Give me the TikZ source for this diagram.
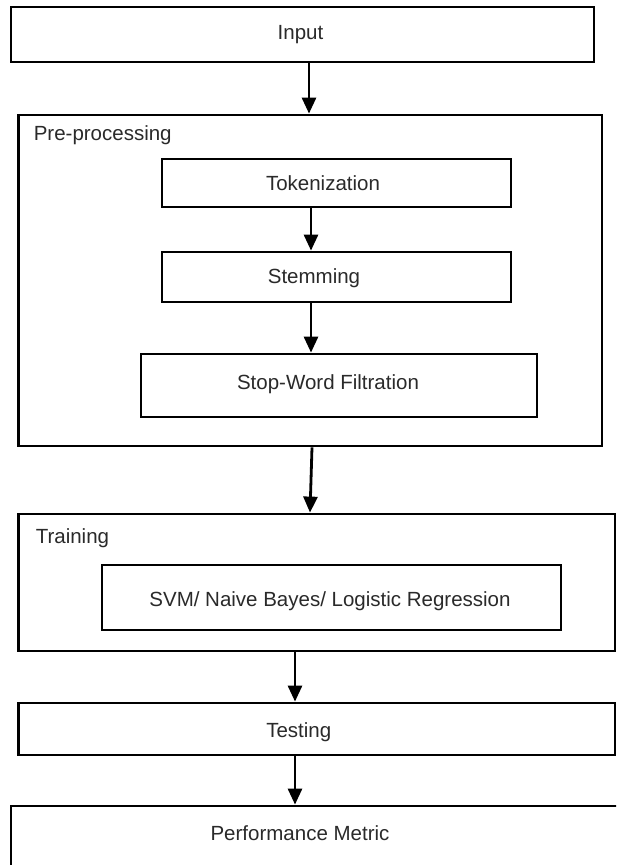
\documentclass[tikz,border=0pt]{standalone}
\usepackage{fontspec}
\setmainfont{Liberation Sans}
\usetikzlibrary{arrows.meta}
\definecolor{ink}{HTML}{2A2A2A}
\tikzset{
  box/.style={draw=black, line width=2.8pt, fill=white, inner sep=0pt},
  txt/.style={text=ink, font=\fontsize{20.5}{24}\selectfont, inner sep=0pt},
  arr/.style={line width=2.8pt, -{Triangle[width=14pt,length=16pt]}},
}
\begin{document}
\begin{tikzpicture}[x=1pt, y=-1pt]
  \useasboundingbox (0,0) rectangle (616,865);
  \fill[white] (0,0) rectangle (616,865);
  \clip (0,0) rectangle (616,865);

  % top input block
  \node[box, minimum width=583pt, minimum height=55pt,
        label={[txt, xshift=-2pt]center:Input}] (input) at (302.5,34.5) {};

  % pre-processing container and its steps
  \node[box, minimum width=583.5pt, minimum height=331pt,
        label={[txt, anchor=west, xshift=16.5pt, yshift=-22pt]north west:Pre-processing}] (pre) at (310.25,280.5) {};
  \node[box, minimum width=349pt, minimum height=48pt,
        label={[txt, xshift=-13.5pt]center:Tokenization}] (tok) at (336.5,183) {};
  \node[box, minimum width=349pt, minimum height=50pt,
        label={[txt, xshift=-22.5pt, yshift=-1pt]center:Stemming}] (stem) at (336.5,277) {};
  \node[box, minimum width=396pt, minimum height=63pt,
        label={[txt, xshift=-11pt, yshift=1pt]center:Stop-Word Filtration}] (swf) at (339,385.5) {};

  % training container with the classifiers
  \node[box, minimum width=596.5pt, minimum height=137pt,
        label={[txt, anchor=west, xshift=18.5pt, yshift=-26pt]north west:Training}] (train) at (316.75,582.5) {};
  \node[box, minimum width=459pt, minimum height=65pt,
        label={[txt, xshift=-1.5pt, yshift=-4pt]center:SVM/ Naive Bayes/ Logistic Regression}] (clf) at (331.5,597.5) {};

  % testing and evaluation
  \node[box, minimum width=596.5pt, minimum height=52pt,
        label={[txt, xshift=-18pt, yshift=-3pt]center:Testing}] (test) at (316.75,729) {};
  \node[box, minimum width=614pt, minimum height=69pt,
        label={[txt, xshift=-18pt, yshift=7.5pt]center:Performance Metric}] (perf) at (318,840.5) {};

  % connectors
  \draw[arr] ([xshift=6.5pt]input.south) -- ([xshift=-1.25pt]pre.north);
  \draw[arr] ([xshift=-25.5pt]tok.south) -- ([xshift=-25.5pt]stem.north);
  \draw[arr] ([xshift=-25.5pt]stem.south) -- ([xshift=-28pt]swf.north);
  \draw[arr] ([xshift=1.75pt]pre.south) -- ([xshift=-6.75pt]train.north);
  \draw[arr] ([xshift=-21.75pt]train.south) -- ([xshift=-21.75pt]test.north);
  \draw[arr] ([xshift=-21.75pt]test.south) -- ([xshift=-23pt]perf.north);
\end{tikzpicture}
\end{document}
